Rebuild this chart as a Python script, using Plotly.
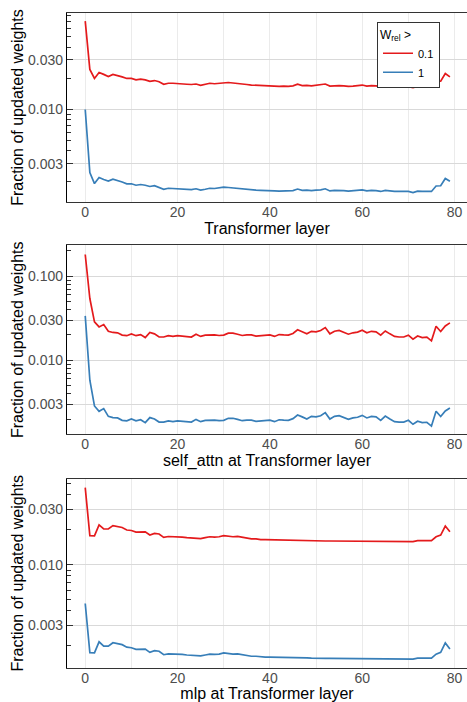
import plotly.graph_objects as go

layers = list(range(80))

# Panel 1: all weights
all_w01 = [0.0710, 0.0243, 0.0199, 0.0227, 0.0218, 0.0208, 0.0218, 0.0213, 0.0206, 0.0199,
           0.0199, 0.0193, 0.0196, 0.0193, 0.0187, 0.0190, 0.0185, 0.0175, 0.0179, 0.0179,
           0.0177, 0.0177, 0.0175, 0.0174, 0.0176, 0.0171, 0.0175, 0.0179, 0.0177, 0.0179,
           0.0182, 0.0182, 0.0180, 0.0177, 0.0175, 0.0174, 0.0172, 0.0171, 0.0170, 0.0170,
           0.0169, 0.0168, 0.0167, 0.0168, 0.0167, 0.0169, 0.0175, 0.0170, 0.0171, 0.0169,
           0.0171, 0.0172, 0.0176, 0.0168, 0.0170, 0.0170, 0.0169, 0.0167, 0.0168, 0.0170,
           0.0172, 0.0168, 0.0170, 0.0169, 0.0166, 0.0170, 0.0167, 0.0166, 0.0166, 0.0166,
           0.0166, 0.0162, 0.0167, 0.0166, 0.0166, 0.0166, 0.0187, 0.0187, 0.0222, 0.0206]
all_w1 = [0.0100, 0.00247, 0.00193, 0.00221, 0.00211, 0.00204, 0.00213, 0.00207, 0.00200, 0.00192,
          0.00192, 0.00186, 0.00189, 0.00186, 0.00181, 0.00184, 0.00178, 0.00170, 0.00174, 0.00173,
          0.00173, 0.00173, 0.00170, 0.00169, 0.00172, 0.00167, 0.00170, 0.00174, 0.00173, 0.00175,
          0.00178, 0.00177, 0.00175, 0.00173, 0.00170, 0.00169, 0.00168, 0.00167, 0.00166, 0.00166,
          0.00164, 0.00164, 0.00163, 0.00164, 0.00163, 0.00165, 0.00171, 0.00166, 0.00167, 0.00165,
          0.00167, 0.00168, 0.00172, 0.00164, 0.00166, 0.00166, 0.00165, 0.00163, 0.00164, 0.00166,
          0.00168, 0.00164, 0.00166, 0.00165, 0.00162, 0.00166, 0.00163, 0.00162, 0.00162, 0.00162,
          0.00162, 0.00158, 0.00163, 0.00162, 0.00162, 0.00162, 0.00183, 0.00184, 0.00216, 0.00203]

# Panel 2: self_attn
attn_w01 = [0.181, 0.0542, 0.0286, 0.0249, 0.0266, 0.0221, 0.0214, 0.0212, 0.0199, 0.0196,
            0.0206, 0.0196, 0.0202, 0.0186, 0.0214, 0.0206, 0.0189, 0.0189, 0.0196, 0.0192,
            0.0196, 0.0194, 0.0192, 0.0189, 0.0204, 0.0192, 0.0199, 0.0200, 0.0200, 0.0197,
            0.0199, 0.0210, 0.0210, 0.0204, 0.0197, 0.0200, 0.0200, 0.0194, 0.0197, 0.0199,
            0.0200, 0.0192, 0.0202, 0.0200, 0.0199, 0.0208, 0.0230, 0.0218, 0.0206, 0.0221,
            0.0218, 0.0226, 0.0245, 0.0206, 0.0221, 0.0226, 0.0216, 0.0204, 0.0212, 0.0216,
            0.0228, 0.0212, 0.0221, 0.0218, 0.0199, 0.0223, 0.0206, 0.0192, 0.0189, 0.0189,
            0.0199, 0.0178, 0.0194, 0.0186, 0.0188, 0.0170, 0.0254, 0.0220, 0.0256, 0.0278]
attn_w1 = [0.0337, 0.00578, 0.00286, 0.00247, 0.00266, 0.00215, 0.00208, 0.00206, 0.00193, 0.00190,
           0.00200, 0.00190, 0.00196, 0.00181, 0.00208, 0.00200, 0.00184, 0.00184, 0.00190, 0.00186,
           0.00190, 0.00188, 0.00186, 0.00184, 0.00198, 0.00186, 0.00193, 0.00194, 0.00194, 0.00191,
           0.00193, 0.00204, 0.00204, 0.00198, 0.00191, 0.00194, 0.00194, 0.00188, 0.00191, 0.00193,
           0.00194, 0.00186, 0.00196, 0.00194, 0.00193, 0.00202, 0.00223, 0.00212, 0.00200, 0.00215,
           0.00212, 0.00219, 0.00238, 0.00200, 0.00215, 0.00219, 0.00210, 0.00198, 0.00206, 0.00210,
           0.00221, 0.00206, 0.00215, 0.00212, 0.00193, 0.00217, 0.00200, 0.00186, 0.00184, 0.00184,
           0.00193, 0.00173, 0.00188, 0.00181, 0.00183, 0.00165, 0.00247, 0.00214, 0.00249, 0.00270]

# Panel 3: mlp
mlp_w01 = [0.0461, 0.0178, 0.0177, 0.0220, 0.0203, 0.0203, 0.0217, 0.0213, 0.0209, 0.0199,
           0.0197, 0.0191, 0.0192, 0.0192, 0.0180, 0.0186, 0.0184, 0.0172, 0.0175, 0.0175,
           0.0173, 0.0173, 0.0171, 0.0170, 0.0170, 0.0168, 0.0171, 0.0174, 0.0173, 0.0174,
           0.0178, 0.0175, 0.0174, 0.0175, 0.0172, 0.0168, 0.0167, 0.0167, 0.01645, 0.01645,
           0.0164, 0.0164, 0.0163, 0.0164, 0.0163, 0.0163, 0.0163, 0.0162, 0.0162, 0.0160,
           0.0160, 0.0160, 0.0160, 0.0160, 0.0160, 0.0160, 0.01595, 0.01595, 0.0159, 0.0159,
           0.0159, 0.0159, 0.0159, 0.0159, 0.0159, 0.0159, 0.0159, 0.0159, 0.01595, 0.01595,
           0.0159, 0.0158, 0.0161, 0.0161, 0.0161, 0.0161, 0.0174, 0.0180, 0.0215, 0.0192]
mlp_w1 = [0.00464, 0.00175, 0.00174, 0.00217, 0.00199, 0.00199, 0.00213, 0.00209, 0.00205, 0.00195,
          0.00193, 0.00187, 0.00188, 0.00188, 0.00176, 0.00182, 0.00180, 0.00168, 0.00171, 0.00171,
          0.00169, 0.00169, 0.00167, 0.00166, 0.00166, 0.00164, 0.00167, 0.00170, 0.00169, 0.00170,
          0.00174, 0.00171, 0.00170, 0.00171, 0.00168, 0.00164, 0.00163, 0.00163, 0.00161, 0.00160,
          0.00160, 0.00160, 0.00159, 0.00159, 0.00159, 0.00159, 0.00158, 0.00158, 0.00158, 0.00157,
          0.00156, 0.00156, 0.00156, 0.00156, 0.00156, 0.00156, 0.00156, 0.00156, 0.00155, 0.00155,
          0.00155, 0.00155, 0.00155, 0.00155, 0.00155, 0.00155, 0.00155, 0.00155, 0.00156, 0.00156,
          0.00155, 0.00154, 0.00157, 0.00157, 0.00156, 0.00157, 0.00170, 0.00176, 0.00212, 0.00188]

x_titles = ["Transformer layer", "self_attn at Transformer layer", "mlp at Transformer layer"]
y_title = "Fraction of updated weights"
series_names = ["0.1", "1"]
x_tickvals = [0, 20, 40, 60, 80]
y_tickvals = [[0.003, 0.01, 0.03], [0.003, 0.01, 0.03, 0.1], [0.003, 0.01, 0.03]]
y_ticktext = [["0.003", "0.010", "0.030"], ["0.003", "0.010", "0.030", "0.100"], ["0.003", "0.010", "0.030"]]

RED = "#E41A1C"
BLUE = "#377EB8"
FONT = "Liberation Sans, Arial, sans-serif"

panels = [(all_w01, all_w1), (attn_w01, attn_w1), (mlp_w01, mlp_w1)]
y_ranges = [[-2.893, -1.070], [-2.883, -0.631], [-2.889, -1.258]]
domains = [[0.7113, 1.0], [0.3565, 0.6456], [0.0, 0.2893]]

fig = go.Figure()
for k, (r, b) in enumerate(panels):
    sfx = "" if k == 0 else str(k + 1)
    for vals, name, col in [(r, series_names[0], RED), (b, series_names[1], BLUE)]:
        fig.add_trace(go.Scatter(
            x=layers, y=vals, mode="lines", name=name,
            line=dict(color=col, width=1.7),
            xaxis="x" + sfx, yaxis="y" + sfx,
            showlegend=(k == 0), legendgroup=name,
        ))
    fig.layout["xaxis" + sfx] = dict(
        domain=[0, 1], anchor="y" + sfx, range=[-3.95, 82.7],
        tickmode="array", tickvals=x_tickvals,
        showgrid=True, gridcolor="#EBEBEB", gridwidth=1,
        minor=dict(dtick=10, tick0=0, showgrid=True, gridcolor="#EBEBEB", gridwidth=1),
        showline=True, linecolor="#333333", linewidth=1.2, mirror=True,
        ticks="", zeroline=False, automargin=False, ticklabelstandoff=-3,
        tickfont=dict(family=FONT, size=14, color="#4D4D4D"),
        title=dict(text=x_titles[k], font=dict(family=FONT, size=16, color="black"), standoff=2),
    )
    fig.layout["yaxis" + sfx] = dict(
        domain=domains[k], anchor="x" + sfx, type="log", range=y_ranges[k],
        tickmode="array", tickvals=y_tickvals[k], ticktext=y_ticktext[k],
        showgrid=True, gridcolor="#D9D9D9", gridwidth=1.3,
        minor=dict(dtick="D1", ticks="inside", ticklen=4, tickcolor="#333333", showgrid=False),
        ticks="inside", ticklen=6, tickcolor="#333333",
        showline=True, linecolor="black", linewidth=1.4,
        zeroline=False, automargin=False,
        tickfont=dict(family=FONT, size=14, color="#4D4D4D"),
        title=dict(text=y_title, font=dict(family=FONT, size=16, color="black"), standoff=0),
    )

fig.update_layout(
    width=467, height=702,
    margin=dict(l=67, r=0, t=13, b=34),
    paper_bgcolor="white", plot_bgcolor="white",
    font=dict(family=FONT, size=11, color="black"),
    legend=dict(
        x=0.775, y=0.986, xanchor="left", yanchor="top",
        bgcolor="white", bordercolor="#333333", borderwidth=1,
        title=dict(text="W<sub>rel</sub> >", font=dict(family=FONT, size=12)),
        font=dict(family=FONT, size=11), itemwidth=30, tracegroupgap=0,
    ),
)

fig.write_html("out.html", config={"displayModeBar": False},
               post_script="document.body.style.margin='0px';")
